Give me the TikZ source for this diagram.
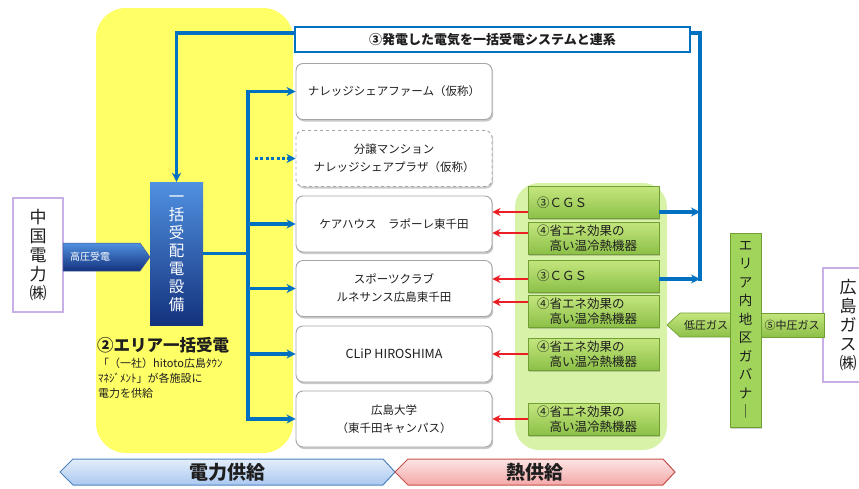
\documentclass[tikz,border=0pt]{standalone}
\usepackage{fontspec}
\setmainfont{Noto Sans CJK JP}
\usetikzlibrary{shadows,arrows.meta}
\definecolor{cYlw}{RGB}{255,255,102}
\definecolor{cLGreen}{RGB}{216,242,168}
\definecolor{cGTop}{RGB}{196,230,125}
\definecolor{cGBot}{RGB}{140,192,72}
\definecolor{cGEdge}{RGB}{112,160,52}
\definecolor{cGov}{RGB}{160,212,90}
\definecolor{cBlue}{RGB}{0,112,192}
\definecolor{cRed}{RGB}{235,30,35}
\definecolor{cLav}{RGB}{200,175,230}
\definecolor{cFacEdge}{RGB}{165,165,165}
\definecolor{cTxt}{RGB}{30,30,30}
\definecolor{cHbTop}{RGB}{80,145,225}
\definecolor{cHbBot}{RGB}{20,50,125}
\definecolor{cPwTop}{RGB}{228,238,251}
\definecolor{cPwBot}{RGB}{170,200,240}
\definecolor{cPwEdge}{RGB}{80,130,190}
\definecolor{cHtTop}{RGB}{253,228,228}
\definecolor{cHtBot}{RGB}{245,168,168}
\definecolor{cHtEdge}{RGB}{195,80,75}
\newcommand{\jfs}[2]{\fontsize{#1}{#2}\selectfont}
\begin{document}
\begin{tikzpicture}[x=1pt,y=-1pt,
  bluepath/.style={draw=cBlue, line width=3.2pt},
  bluearr/.style={bluepath, -{Stealth[length=9pt,width=9pt]}},
  redarr/.style={draw=cRed, line width=2.4pt, -{Stealth[length=8pt,width=8pt]}},
  facbox/.style={draw=cFacEdge, line width=0.9pt, fill=white, rounded corners=7pt,
    minimum width=196pt, minimum height=56pt, align=center, text=cTxt,
    font=\jfs{11.5}{18},
    drop shadow={shadow xshift=1.2pt, shadow yshift=-2pt, opacity=0.3, fill=black!70}},
  gbox/.style={draw=cGEdge, line width=0.8pt, top color=cGTop, bottom color=cGBot,
    minimum width=131pt, minimum height=32pt, text width=113pt, inner xsep=9pt,
    inner ysep=0pt, align=left, text=cTxt, font=\jfs{12.5}{15},
    drop shadow={shadow xshift=1pt, shadow yshift=-1.5pt, opacity=0.25, fill=black!70}},
  compbox/.style={draw=cLav, line width=1.6pt, fill=white, minimum width=50pt,
    minimum height=114pt, align=center, text=cTxt, font=\jfs{17}{19}},
  gasband/.style={draw=cGEdge, line width=0.7pt, top color=cGTop, bottom color=cGBot},
  gastext/.style={text=cTxt, font=\jfs{11}{12}, inner sep=0pt}
]
\useasboundingbox (0,0) rectangle (859,488);
\clip (0,0) rectangle (859,488);

% backgrounds
\fill[cYlw, rounded corners=30pt] (96,8) rectangle (293,453);
\fill[cLGreen, rounded corners=24pt] (515,183) rectangle (667,450);

% helper coordinates
\coordinate (bus) at (248,253.5);
\coordinate (ya) at (0,212);
\coordinate (yb) at (0,233);
\coordinate (yc) at (0,279);
\coordinate (yd) at (0,302);
\coordinate (ctop) at (700,33);
\coordinate (c1) at (700,212);
\coordinate (c2) at (700,279);
\coordinate (cbot) at (700,281);

% nodes
\node[draw=none, top color=cHbTop, bottom color=cHbBot, minimum width=53pt,
  minimum height=143pt, inner sep=0pt, text=white, align=center,
  font=\jfs{15.5}{18}] (hd) at (176.5,253.5) {一\\括\\受\\配\\電\\設\\備};

\node[compbox] (cg) at (38,255) {中\\国\\電\\力\\{\jfs{17}{19}㈱}};
\node[compbox] (hg) at (848,325) {広\\島\\ガ\\ス\\{\jfs{17}{19}㈱}};

\node[facbox] (f1) at (394,91.5) {ナレッジシェアファーム（仮称）};
\node[facbox, dashed] (f2) at (394,158.5) {分譲マンション\\ナレッジシェアプラザ（仮称）};
\node[facbox] (f3) at (394,224) {ケアハウス　ラポーレ東千田};
\node[facbox] (f4) at (394,288.5) {スポーツクラブ\\ルネサンス広島東千田};
\node[facbox, font=\jfs{12.5}{18}] (f5) at (394,354) {CLiP HIROSHIMA};
\node[facbox] (f6) at (394,419) {広島大学\\（東千田キャンパス）};

\node[gbox] (g1) at (593.5,202.5) {③ＣＧＳ};
\node[gbox] (g2) at (593.5,238) {④省エネ効果の\\\hspace*{1em}高い温冷熱機器};
\node[gbox] (g3) at (593.5,276) {③ＣＧＳ};
\node[gbox] (g4) at (593.5,311) {④省エネ効果の\\\hspace*{1em}高い温冷熱機器};
\node[gbox] (g5) at (593.5,354) {④省エネ効果の\\\hspace*{1em}高い温冷熱機器};
\node[gbox] (g6) at (593.5,419) {④省エネ効果の\\\hspace*{1em}高い温冷熱機器};

% high-voltage arrow
\draw[draw=cHbBot!80, line width=0.5pt, top color=cHbTop, bottom color=cHbBot]
  (63,243) -- (140,243) -- (150,257) -- (140,271) -- (63,271) -- cycle;
\node[text=white, font=\jfs{10}{11}, inner sep=0pt] (kv) at (90,257) {高圧受電};

% power distribution lines
\draw[bluepath] (hd.east) -- (bus);
\draw[bluepath, line cap=rect] (f1.west -| bus) -- (f6.west -| bus);
\foreach \f in {f1,f3,f4,f5,f6}
  \draw[bluearr] (\f.west -| bus) -- (\f.west);
\draw[bluearr, dash pattern=on 3pt off 2.4pt] ([xshift=7pt]f2.west -| bus) -- (f2.west);

% CGS return loop
\draw[bluearr] (g1.east |- c1) -- (c1);
\draw[bluearr] (g3.east |- c2) -- (c2);
\draw[bluearr] (cbot) -- (ctop) -- (ctop -| hd.north) -- (hd.north);
\node[draw=cBlue, line width=1.8pt, fill=white, minimum width=395pt,
  minimum height=25pt, inner sep=0pt, text=cTxt, font=\bfseries\jfs{13}{15}] (ttl)
  at (492.5,39.5) {③発電した電気を一括受電システムと連系};

% heat arrows
\draw[redarr] (g1.west |- ya) -- (f3.east |- ya);
\draw[redarr] (g2.west |- yb) -- (f3.east |- yb);
\draw[redarr] (g3.west |- yc) -- (f4.east |- yc);
\draw[redarr] (g4.west |- yd) -- (f4.east |- yd);
\draw[redarr] (g5.west) -- (f5.east);
\draw[redarr] (g6.west) -- (f6.east);

% gas
\draw[gasband] (667,325) -- (680,313) -- (731,313) -- (731,337) -- (680,337) -- cycle;
\draw[gasband] (760,313) rectangle (824,337);
\node[draw=cGEdge, line width=0.8pt, fill=cGov, minimum width=31pt, minimum height=194pt,
  inner sep=0pt, align=center, text=cTxt, font=\jfs{13.5}{18.5},
  drop shadow={shadow xshift=1pt, shadow yshift=-1.5pt, opacity=0.25, fill=black!70}]
  (gov) at (745.5,330) {エ\\リ\\ア\\内\\地\\区\\ガ\\バ\\ナ\\｜};
\node[gastext] (lp) at (706,325) {低圧ガス};
\node[gastext] (mp) at (792,325) {⑤中圧ガス};

% area label
\node[anchor=west, inner sep=0pt, text=cTxt, font=\bfseries\jfs{16.5}{18}] (area)
  at (97,345) {②エリア一括受電};
\node[anchor=north west, inner sep=0pt, align=left, text=cTxt, font=\jfs{11}{15}] (areasub)
  at (98,358) {「（一社）hitoto広島ﾀｳﾝ\\ﾏﾈｼﾞﾒﾝﾄ」が各施設に\\電力を供給};

% bottom banners
\draw[draw=cPwEdge, line width=1pt, top color=cPwTop, bottom color=cPwBot]
  (60,472) -- (73,459) -- (383,459) -- (395,472) -- (383,485) -- (73,485) -- cycle;
\node[text=cTxt, font=\bfseries\jfs{19}{20}] (pw) at (227.5,472) {電力供給};
\draw[draw=cHtEdge, line width=1pt, top color=cHtTop, bottom color=cHtBot]
  (395,472) -- (408,459) -- (663,459) -- (675,472) -- (663,485) -- (408,485) -- cycle;
\node[text=cTxt, font=\bfseries\jfs{19}{20}] (ht) at (535,472) {熱供給};
\end{tikzpicture}
\end{document}
